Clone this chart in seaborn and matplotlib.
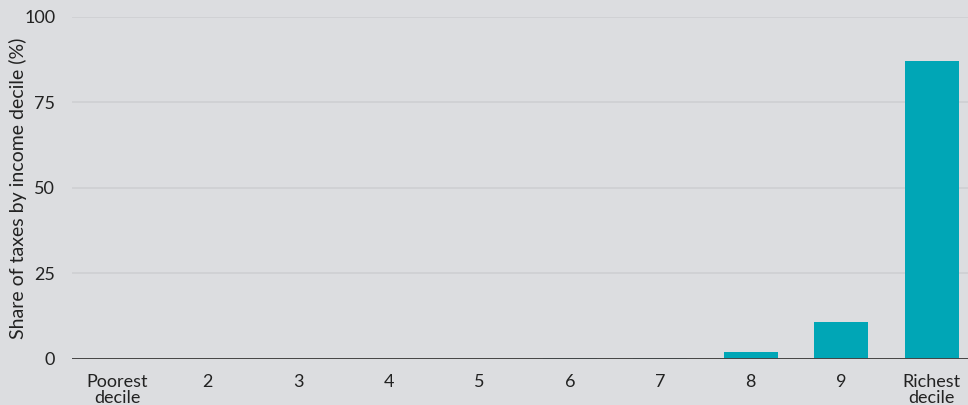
import numpy as np
import pandas as pd
import matplotlib
matplotlib.use('Agg')
import matplotlib.pyplot as plt
import seaborn as sns

deciles = ['Poorest\ndecile', '2', '3', '4', '5', '6', '7', '8', '9', 'Richest\ndecile']
share = [0.05, 0.05, 0.05, 0.05, 0.05, 0.1, 0.3, 2.0, 10.8, 87.0]
yticks = [0, 25, 50, 75, 100]

bg = '#dcdde0'
bar_col = '#00a6b6'

sns.set_theme(style='white')
plt.rcParams['font.family'] = ['Lato', 'DejaVu Sans']

df = pd.DataFrame({'decile': deciles, 'share': share})

fig = plt.figure(figsize=(9.68, 4.05), dpi=100, facecolor=bg)
ax = fig.add_axes([0.0744, 0.114, 0.9256, 0.845])
ax.set_facecolor(bg)

sns.barplot(data=df, x='decile', y='share', color=bar_col, width=0.6,
            saturation=1, linewidth=0, ax=ax, zorder=3)

ax.set_ylim(0, 100)
ax.set_xlim(-0.5, 9.4)
ax.set_yticks(yticks)
ax.set_yticklabels([str(t) for t in yticks])
for t in yticks[1:]:
    ax.axhline(t, color='#d0d1d4', lw=1.4, zorder=1)
ax.axhline(0, color='#444444', lw=1.4, zorder=4)

for s in ax.spines.values():
    s.set_visible(False)
ax.tick_params(axis='both', length=0, labelsize=13, colors='#222222')
ax.tick_params(axis='x', pad=11)
ax.tick_params(axis='y', pad=12)
for lbl in ax.get_xticklabels():
    lbl.set_linespacing(1.0)

ax.set_xlabel('')
ax.set_ylabel('')
fig.text(18 / 968, 1 - 188 / 405, 'Share of taxes by income decile (%)', rotation=90,
         ha='center', va='center', fontsize=14, color='#222222')

fig.savefig('out.png', dpi=100, facecolor=bg)
